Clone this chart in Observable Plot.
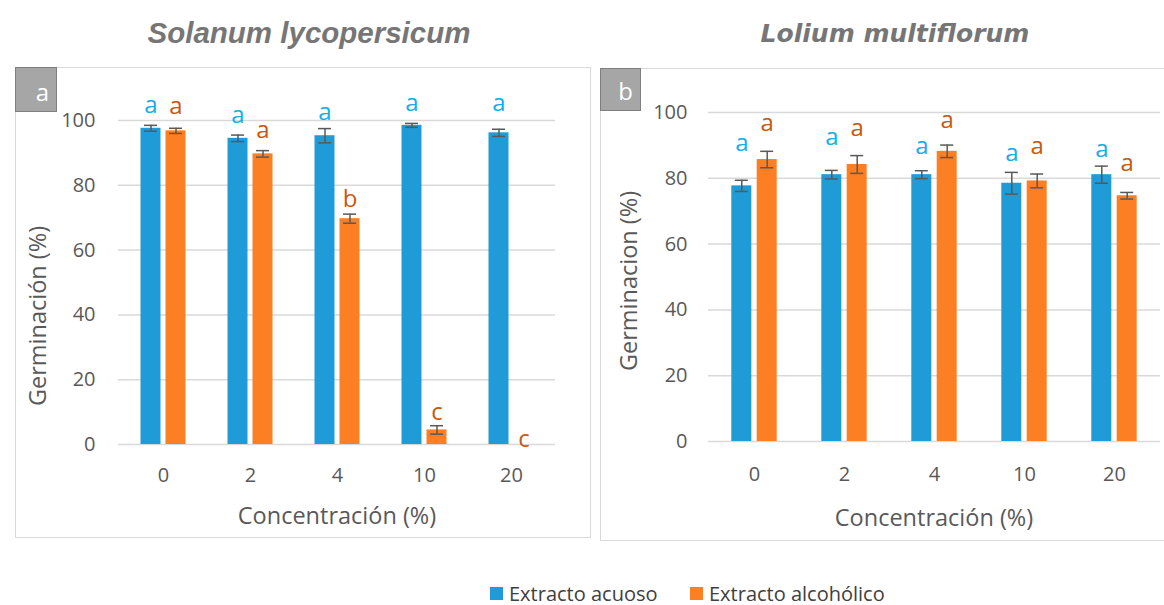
<!DOCTYPE html>
<html>
<head>
<meta charset="utf-8">
<script src="https://cdn.jsdelivr.net/npm/d3@7"></script>
<script src="https://cdn.jsdelivr.net/npm/@observablehq/plot@0.6"></script>
<style>
  html, body { margin: 0; padding: 0; background: #fff; }
  body { width: 1164px; height: 605px; position: relative; overflow: hidden; font-family: "Open Sans", sans-serif; color: #595959; }
  .abs { position: absolute; white-space: nowrap; }
  .frame { position: absolute; border: 1.5px solid #d9d9d9; box-sizing: border-box; }
  .tag { position: absolute; background: #a6a6a6; border: 1.5px solid #7f7f7f; box-sizing: border-box; color: #fff; font-size: 24px; line-height: 1; }
  .tag span { position: absolute; right: 7px; bottom: 7px; }
  .title { font-weight: bold; font-style: italic; color: #767676; transform: translate(-50%, -50%); }
  .xt { font-size: 23.5px; transform: translate(-50%, -50%); }
  .yt { font-size: 23.5px; transform: translate(-50%, -50%) rotate(-90deg); }
  .leg { font-size: 20px; color: #404040; transform: translateY(-50%); }
  .sw { position: absolute; width: 13px; height: 13px; }
</style>
</head>
<body>
<script>
// ---------- data ----------
const concentrations = ["0", "2", "4", "10", "20"];
const seriesNames = ["Extracto acuoso", "Extracto alcohólico"];
const yTicks = [0, 20, 40, 60, 80, 100];

// Solanum lycopersicum
const solAcuoso = [97.6, 94.5, 95.3, 98.5, 96.2];
const solAcuosoErr = [0.9, 1.0, 2.2, 0.6, 1.1];
const solAlcoholico = [96.8, 89.7, 69.7, 4.5, 0];
const solAlcoholicoErr = [0.8, 1.0, 1.4, 1.3, 0];
const solAcuosoLetters = ["a", "a", "a", "a", "a"];
const solAlcoholicoLetters = ["a", "a", "b", "c", "c"];
const solAcuosoLetterY = [104.6, 101.5, 102.5, 105.2, 105.2];
const solAlcoholicoLetterY = [104.3, 96.9, 75.6, 9.9, 1.5];

// Lolium multiflorum
const lolAcuoso = [77.7, 81.1, 81.1, 78.5, 81.1];
const lolAcuosoErr = [1.7, 1.3, 1.2, 3.3, 2.6];
const lolAlcoholico = [85.7, 84.2, 88.2, 79.2, 74.7];
const lolAlcoholicoErr = [2.5, 2.7, 1.9, 2.1, 1.0];
const lolAcuosoLetters = ["a", "a", "a", "a", "a"];
const lolAlcoholicoLetters = ["a", "a", "a", "a", "a"];
const lolAcuosoLetterY = [90.6, 92.4, 89.7, 87.5, 88.8];
const lolAlcoholicoLetterY = [96.7, 95.1, 97.6, 89.7, 84.5];

// ---------- styles ----------
const barColors = ["#1f9bd7", "#fd7f23"];
const letterColors = ["#14aeea", "#c65911"];

function rows(vals, errs, letters, letterY) {
  return concentrations.map((c, i) => ({ c, v: vals[i], e: errs[i], l: letters[i], ly: letterY[i] }));
}

function panel(cfg) {
  const s1 = rows(cfg.a, cfg.aErr, cfg.aL, cfg.aLY);
  const s2 = rows(cfg.b, cfg.bErr, cfg.bL, cfg.bLY);
  const off = cfg.off;
  const seriesMarks = (data, k, dx) => [
    Plot.barY(data, { x: "c", y: "v", fill: barColors[k], dx }),
    Plot.ruleX(data.filter(d => d.e > 0), { x: "c", y1: d => d.v - d.e, y2: d => d.v + d.e, stroke: "#595959", strokeWidth: 1.5, dx }),
    Plot.tickY(data.filter(d => d.e > 0), { x: "c", y: d => d.v - d.e, stroke: "#595959", strokeWidth: 1.5, dx, insetLeft: 3.5, insetRight: 3.5 }),
    Plot.tickY(data.filter(d => d.e > 0), { x: "c", y: d => d.v + d.e, stroke: "#595959", strokeWidth: 1.5, dx, insetLeft: 3.5, insetRight: 3.5 }),
    Plot.text(data, { x: "c", y: "ly", text: "l", fill: letterColors[k], fontSize: 24, dx })
  ];
  return Plot.plot({
    width: cfg.width,
    height: cfg.height,
    marginLeft: cfg.ml, marginRight: cfg.mr, marginTop: cfg.mt, marginBottom: cfg.mb,
    x: { domain: concentrations, paddingInner: cfg.pad, paddingOuter: cfg.pad / 2, axis: null },
    y: { domain: [0, 100], axis: null },
    style: { fontFamily: "Open Sans", color: "#595959", background: "transparent", overflow: "visible" },
    marks: [
      Plot.gridY(yTicks, { stroke: "#d9d9d9", strokeOpacity: 1, strokeWidth: 1.5 }),
      Plot.axisY(yTicks, { tickSize: 0, tickPadding: cfg.ypad, fontSize: 20, label: null }),
      Plot.axisX({ tickSize: 0, tickPadding: cfg.xpad, fontSize: 20, label: null }),
      ...seriesMarks(s1, 0, -off),
      ...seriesMarks(s2, 1, off)
    ]
  });
}

function addEl(cls, css, html) {
  const el = document.createElement("div");
  el.className = cls;
  Object.assign(el.style, css);
  if (html != null) el.innerHTML = html;
  document.body.appendChild(el);
  return el;
}

// frames
addEl("frame", { left: "15px", top: "67px", width: "576px", height: "471px" });
addEl("frame", { left: "600px", top: "68px", width: "566px", height: "473px" });

// panel a
const pa = panel({
  width: 575, height: 470, ml: 103, mr: 35, mt: 53, mb: 93, pad: 0.771, off: 12.5, ypad: 23, xpad: 23,
  a: solAcuoso, aErr: solAcuosoErr, aL: solAcuosoLetters, aLY: solAcuosoLetterY,
  b: solAlcoholico, bErr: solAlcoholicoErr, bL: solAlcoholicoLetters, bLY: solAlcoholicoLetterY
});
const wa = addEl("abs", { left: "15px", top: "67px" });
wa.appendChild(pa);

// panel b
const pb = panel({
  width: 562, height: 472, ml: 108, mr: 2, mt: 44, mb: 99, pad: 0.779, off: 12.7, ypad: 21, xpad: 25,
  a: lolAcuoso, aErr: lolAcuosoErr, aL: lolAcuosoLetters, aLY: lolAcuosoLetterY,
  b: lolAlcoholico, bErr: lolAlcoholicoErr, bL: lolAlcoholicoLetters, bLY: lolAlcoholicoLetterY
});
const wb = addEl("abs", { left: "600px", top: "68px" });
wb.appendChild(pb);

// tags
addEl("tag", { left: "15px", top: "67px", width: "42px", height: "45px" }, "<span>a</span>");
addEl("tag", { left: "600px", top: "68px", width: "41px", height: "43px" }, "<span>b</span>");

// titles
addEl("abs title", { left: "309px", top: "33px", fontSize: "29.5px", fontFamily: "'Liberation Sans', Arial, sans-serif" }, "Solanum lycopersicum");
addEl("abs title", { left: "895px", top: "33px", fontSize: "25px", fontFamily: "'DejaVu Sans', sans-serif" }, "Lolium multiflorum");

// axis titles
addEl("abs xt", { left: "337px", top: "515px" }, "Concentración (%)");
addEl("abs xt", { left: "934px", top: "517px" }, "Concentración (%)");
addEl("abs yt", { left: "37px", top: "316px" }, "Germinación (%)");
addEl("abs yt", { left: "628px", top: "281px" }, "Germinacion (%)");

// legend
addEl("sw", { left: "490px", top: "587px", background: barColors[0] });
addEl("abs leg", { left: "509px", top: "593px" }, seriesNames[0]);
addEl("sw", { left: "690px", top: "587px", background: barColors[1] });
addEl("abs leg", { left: "709px", top: "593px" }, seriesNames[1]);
</script>
</body>
</html>
